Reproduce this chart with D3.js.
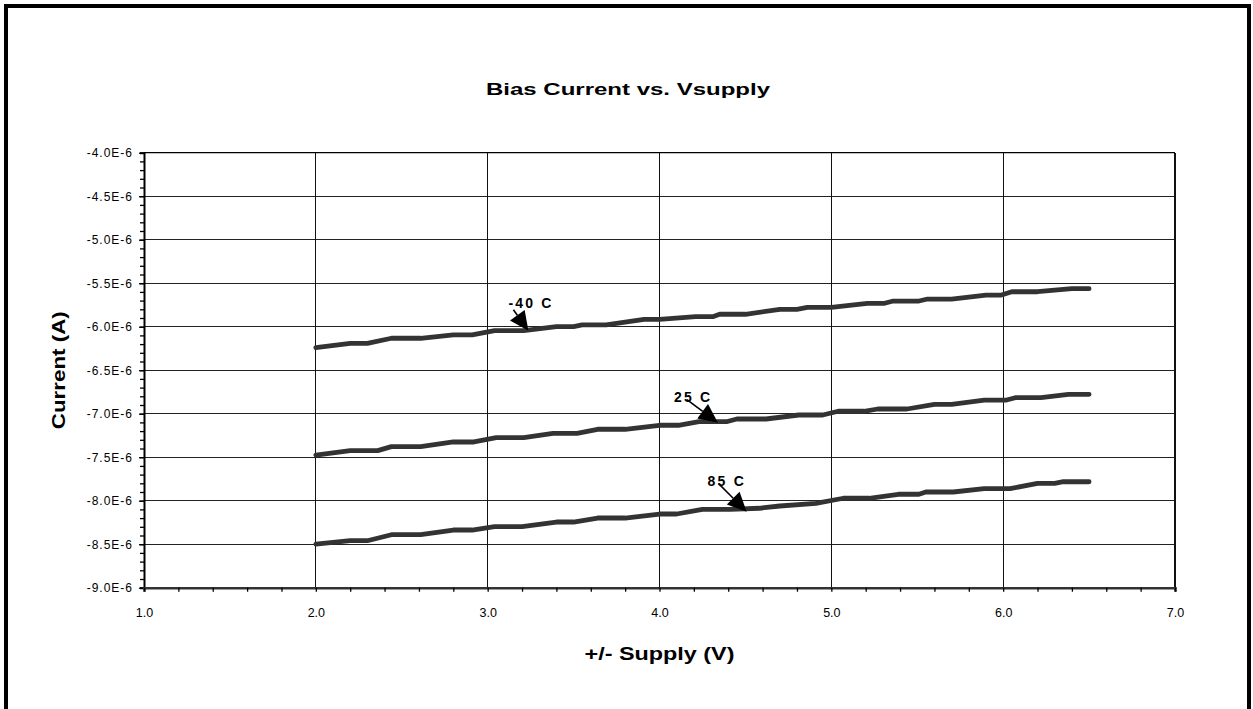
<!DOCTYPE html>
<html><head><meta charset="utf-8">
<script src="https://cdn.jsdelivr.net/npm/d3@7"></script>
<style>
html,body{margin:0;padding:0;background:#fff;}
svg{display:block;font-family:Arial,"Liberation Sans",sans-serif;}
</style></head><body>
<svg id="chart" width="1253" height="709"></svg>
<script>
// ---------- data ----------
const chartTitle = "Bias Current vs. Vsupply";
const xAxisTitle = "+/- Supply (V)";
const yAxisTitle = "Current (A)";

const xTickValues = [1, 2, 3, 4, 5, 6, 7];
const xTickLabels = ["1.0", "2.0", "3.0", "4.0", "5.0", "6.0", "7.0"];
const yTickValues = [-4.0e-6, -4.5e-6, -5.0e-6, -5.5e-6, -6.0e-6, -6.5e-6, -7.0e-6, -7.5e-6, -8.0e-6, -8.5e-6, -9.0e-6];
const yTickLabels = ["-4.0E-6", "-4.5E-6", "-5.0E-6", "-5.5E-6", "-6.0E-6", "-6.5E-6", "-7.0E-6", "-7.5E-6", "-8.0E-6", "-8.5E-6", "-9.0E-6"];

// series: supply voltage (V) and bias current (in microamps, converted to A below)
const voltsM40 = [2.00, 2.20, 2.30, 2.44, 2.61, 2.80, 2.91, 3.04, 3.21, 3.40, 3.50, 3.55, 3.69, 3.91, 4.00, 4.21, 4.31, 4.35, 4.50, 4.70, 4.80, 4.86, 5.00, 5.21, 5.31, 5.36, 5.51, 5.56, 5.70, 5.90, 5.99, 6.05, 6.20, 6.40, 6.50];
const microAmpM40 = [-6.241, -6.191, -6.191, -6.133, -6.133, -6.095, -6.095, -6.046, -6.046, -6.000, -6.000, -5.980, -5.980, -5.915, -5.915, -5.885, -5.885, -5.857, -5.857, -5.800, -5.800, -5.777, -5.777, -5.731, -5.731, -5.705, -5.705, -5.682, -5.682, -5.636, -5.636, -5.598, -5.598, -5.563, -5.563];

const volts25 = [2.00, 2.20, 2.36, 2.44, 2.61, 2.80, 2.92, 3.05, 3.21, 3.38, 3.52, 3.64, 3.80, 4.00, 4.11, 4.23, 4.39, 4.45, 4.62, 4.81, 4.95, 5.04, 5.19, 5.27, 5.44, 5.60, 5.70, 5.89, 6.02, 6.07, 6.22, 6.38, 6.50];
const microAmp25 = [-7.475, -7.425, -7.425, -7.379, -7.379, -7.325, -7.325, -7.276, -7.276, -7.225, -7.225, -7.179, -7.179, -7.133, -7.133, -7.092, -7.092, -7.061, -7.061, -7.015, -7.015, -6.972, -6.972, -6.946, -6.946, -6.892, -6.892, -6.843, -6.843, -6.816, -6.816, -6.777, -6.777];

const volts85 = [2.00, 2.20, 2.30, 2.44, 2.61, 2.80, 2.91, 3.04, 3.20, 3.40, 3.50, 3.64, 3.80, 4.00, 4.10, 4.25, 4.41, 4.58, 4.70, 4.91, 5.07, 5.22, 5.39, 5.51, 5.55, 5.71, 5.89, 6.04, 6.20, 6.30, 6.35, 6.50];
const microAmp85 = [-8.499, -8.460, -8.460, -8.391, -8.391, -8.337, -8.337, -8.299, -8.299, -8.245, -8.245, -8.199, -8.199, -8.153, -8.153, -8.099, -8.099, -8.087, -8.061, -8.030, -7.972, -7.972, -7.926, -7.926, -7.900, -7.900, -7.862, -7.862, -7.800, -7.800, -7.782, -7.782];

// call-out labels: text, and the point on the curve the arrow touches
const calloutText = ["-40 C", "25 C", "85 C"];
const calloutVolts = [3.237, 4.340, 4.507];
const calloutMicroAmp = [-6.046, -7.103, -8.126];

// ---------- layout ----------
const W = 1253, H = 709;
const plot = {left: 144, right: 1175, top: 152.7, bottom: 587.7};
const lineColor = "#333333";

const svg = d3.select("#chart");

const x = d3.scaleLinear().domain([1, 7]).range([plot.left, plot.right]);
const y = d3.scaleLinear().domain([-9e-6, -4e-6]).range([plot.bottom, plot.top]);

// outer frame
svg.append("rect").attr("x", 6).attr("y", 6).attr("width", W - 10).attr("height", H + 10)
  .attr("fill", "none").attr("stroke", "#000").attr("stroke-width", 4);

// gridlines
const grid = svg.append("g");
grid.selectAll("line.h").data(yTickValues.filter(d => d > -9e-6)).join("line")
  .attr("x1", plot.left).attr("x2", plot.right)
  .attr("y1", d => y(d)).attr("y2", d => y(d))
  .attr("stroke", "#222").attr("stroke-width", 1).attr("shape-rendering", "crispEdges");
grid.selectAll("line.v").data(xTickValues.filter(d => d > 1)).join("line")
  .attr("x1", d => x(d)).attr("x2", d => x(d))
  .attr("y1", plot.top).attr("y2", plot.bottom)
  .attr("stroke", "#111").attr("stroke-width", d => d === 7 ? 1.5 : 1).attr("shape-rendering", "crispEdges");

// y axis: minor ticks every 0.1E-6, major labels every 0.5E-6
const yMinor = d3.range(0, 51).map(k => -9e-6 + k * 1e-7);
svg.append("g").attr("transform", `translate(${plot.left},0)`)
  .call(d3.axisLeft(y).tickValues(yMinor).tickSize(4).tickFormat(""))
  .call(g => g.select(".domain").attr("stroke", "#000").attr("stroke-width", 2))
  .call(g => g.selectAll(".tick line").attr("stroke", "#000").attr("stroke-width", 1.3));
const yAx = svg.append("g").attr("transform", `translate(${plot.left},0)`)
  .call(d3.axisLeft(y).tickValues(yTickValues).tickSize(5).tickPadding(6)
        .tickFormat((d, i) => yTickLabels[i]));
yAx.select(".domain").remove();
yAx.selectAll(".tick line").attr("stroke", "#000").attr("stroke-width", 1.3);
yAx.selectAll(".tick text").attr("font-size", 12).attr("fill", "#000")
  .attr("font-family", "Arial, 'Liberation Sans', sans-serif").style("letter-spacing", "1px");

// x axis: minor ticks every 0.2
const xMinor = d3.range(0, 31).map(k => 1 + k * 0.2);
svg.append("g").attr("transform", `translate(0,${plot.bottom})`)
  .call(d3.axisBottom(x).tickValues(xMinor).tickSize(4).tickFormat(""))
  .call(g => g.select(".domain").attr("stroke", "#333").attr("stroke-width", 2.6))
  .call(g => g.selectAll(".tick line").attr("stroke", "#000").attr("stroke-width", 1.3));
const xAx = svg.append("g").attr("transform", `translate(0,${plot.bottom})`)
  .call(d3.axisBottom(x).tickValues(xTickValues).tickSize(4).tickPadding(16)
        .tickFormat((d, i) => xTickLabels[i]));
xAx.select(".domain").remove();
xAx.selectAll(".tick line").remove();
xAx.selectAll(".tick text").attr("font-size", 12.5).attr("fill", "#000")
  .attr("font-family", "Arial, 'Liberation Sans', sans-serif");

// top border of the plot
svg.append("line").attr("x1", plot.left).attr("x2", plot.right).attr("y1", plot.top).attr("y2", plot.top)
  .attr("stroke", "#000").attr("stroke-width", 1.3);

// series lines
const seriesList = [
  {v: voltsM40, i: microAmpM40},
  {v: volts25, i: microAmp25},
  {v: volts85, i: microAmp85}
];
const line = d3.line().x(d => x(d[0])).y(d => y(d[1]));
svg.append("g").selectAll("path").data(seriesList).join("path")
  .attr("d", s => line(s.v.map((v, k) => [v, s.i[k] * 1e-6])))
  .attr("fill", "none").attr("stroke", lineColor).attr("stroke-width", 4.8)
  .attr("stroke-linecap", "round").attr("stroke-linejoin", "round");

// call-outs
const calloutStyle = [
  {tx: -20, ty: -23, sx: -15, sy: -21},
  {tx: -44, ty: -21, sx: -31, sy: -23},
  {tx: -39, ty: -26, sx: -28, sy: -28}
];
const cg = svg.append("g");
calloutText.forEach((t, k) => {
  const px = x(calloutVolts[k]), py = y(calloutMicroAmp[k] * 1e-6);
  const st = calloutStyle[k];
  const x0 = px + st.sx, y0 = py + st.sy;
  const dx = px - x0, dy = py - y0, len = Math.hypot(dx, dy);
  const ux = dx / len, uy = dy / len;
  const headL = 19, headW = 9;
  const bx = px - ux * headL, by = py - uy * headL;
  cg.append("line").attr("x1", x0).attr("y1", y0).attr("x2", bx).attr("y2", by)
    .attr("stroke", "#000").attr("stroke-width", 1.6);
  cg.append("path")
    .attr("d", `M${px},${py}L${bx - uy * headW},${by + ux * headW}L${bx + uy * headW},${by - ux * headW}Z`)
    .attr("fill", "#000");
  cg.append("text").attr("x", px + st.tx).attr("y", py + st.ty)
    .attr("font-size", 14).attr("font-weight", "bold").style("letter-spacing", "2.2px")
    .attr("fill", "#000").text(t);
});

// titles
svg.append("text").attr("x", 628).attr("y", 95).attr("text-anchor", "middle")
  .attr("font-size", 17).attr("font-weight", "bold").attr("textLength", 284)
  .attr("lengthAdjust", "spacingAndGlyphs").text(chartTitle);
svg.append("text").attr("x", (plot.left + plot.right) / 2).attr("y", 660).attr("text-anchor", "middle")
  .attr("font-size", 18).attr("font-weight", "bold").attr("textLength", 150)
  .attr("lengthAdjust", "spacingAndGlyphs").text(xAxisTitle);
svg.append("text").attr("transform", `translate(65,${(plot.top + plot.bottom) / 2}) rotate(-90)`)
  .attr("text-anchor", "middle").attr("font-size", 18).attr("font-weight", "bold")
  .attr("textLength", 118).attr("lengthAdjust", "spacingAndGlyphs").text(yAxisTitle);
</script>
</body></html>
